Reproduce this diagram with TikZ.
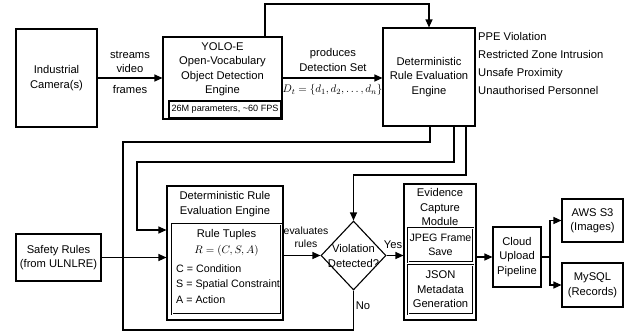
\documentclass[tikz,border=0pt]{standalone}
\usepackage{fontspec}
\setmainfont{Liberation Sans}
\usetikzlibrary{arrows.meta,shapes.geometric,calc}
\begin{document}
\begin{tikzpicture}[x=1pt,y=-1pt,
  every node/.style={font=\fontsize{11.2}{14.5}\selectfont},
  small/.style={font=\fontsize{10.7}{14.5}\selectfont},
  box/.style={draw,line width=1.1pt,inner sep=0pt,align=center},
  dbox/.style={draw,line width=0.5pt,double,double distance=0.6pt,inner sep=0pt,align=center},
  txt/.style={inner sep=0pt,align=center},
  conn/.style={line width=1.1pt},
  arr/.style={conn,-{Triangle[length=8pt,width=7pt]}}]
\useasboundingbox (0,0) rectangle (628,335);

% camera and detector
\node[box,minimum width=81,minimum height=98] (cam) at (56.5,78) {Industrial\\Camera(s)};
\node[box,minimum width=119,minimum height=82] (yolo) at (222.5,78) {};
\node[txt] (yolotxt) at (222.5,69) {YOLO-E\\Open-Vocabulary\\Object Detection\\Engine};
\node[box,minimum width=112,minimum height=17,font=\fontsize{9.1}{11}\selectfont] (yparam) at (225,109.5) {26M parameters, \textasciitilde 60 FPS};

% rule engine (top)
\node[box,minimum width=92,minimum height=98] (eng) at (429,77) {Deterministic\\Rule Evaluation\\Engine};
\node[txt,anchor=west,align=left,font=\fontsize{11.2}{17.7}\selectfont] (vlist) at (478,63.5)
  {PPE Violation\\Restricted Zone Intrusion\\Unsafe Proximity\\Unauthorised Personnel};

% rule engine (detail)
\node[box,minimum width=116,minimum height=134] (dre) at (225,253) {};
\node[txt] (dretxt) at (225,204) {Deterministic Rule\\Evaluation Engine};
\node[dbox,minimum width=109,minimum height=90] (tup) at (226.5,269) {};
\node[txt] (tuptitle) at (226.5,235) {Rule Tuples};
\node[txt] (tupR) at (226.5,251) {$R=(C,S,A)$};
\node[txt,small,anchor=west] (tupC) at (176,269) {C = Condition};
\node[txt,small,anchor=west] (tupS) at (176,284.5) {S = Spatial Constraint};
\node[txt,small,anchor=west] (tupA) at (176,300) {A = Action};

\node[box,minimum width=85,minimum height=47] (safe) at (58.5,257.5) {Safety Rules\\(from ULNLRE)};

% decision
\node[draw,line width=1.1pt,diamond,shape aspect=0.94,minimum width=65,minimum height=69,inner sep=0pt] (dia) at (353.5,255.5) {};
\node[txt] (diatxt) at (353.5,256) {Violation\\Detected?};

% evidence capture
\node[box,minimum width=72,minimum height=136] (evid) at (440,252) {};
\node[txt] (evidtxt) at (440,207) {Evidence\\Capture\\Module};
\node[dbox,small,minimum width=65,minimum height=34] (jpeg) at (440.5,245) {JPEG Frame\\Save};
\node[dbox,minimum width=65,minimum height=49] (json) at (440.5,289.5) {JSON\\Metadata\\Generation};

% upload and storage
\node[box,minimum width=48,minimum height=60] (cloud) at (517,257) {Cloud\\Upload\\Pipeline};
\node[box,minimum width=61,minimum height=43] (aws) at (592.5,220.5) {AWS S3\\(Images)};
\node[box,minimum width=61,minimum height=44] (mysql) at (592.5,285) {MySQL\\(Records)};

% routing points
\coordinate (topA) at (429,4);
\coordinate (noA) at (123,142);
\coordinate (noB) at (123,330);
\coordinate (lpA) at (137,162);
\coordinate (lpB) at (137,230);
\coordinate (vA) at (353.5,175);
\coordinate (split) at (550,257);

% connectors
\draw[arr] (cam.east) -- (yolo.west |- cam.east);
\node[txt] (lblstream) at (130,62) {streams\\video};
\node[txt] (lblframes) at (130,89) {frames};

\draw[arr] (yolo.east) -- (eng.west |- yolo.east);
\node[txt] (lblprod) at (333,60) {produces\\Detection Set};
\node[txt,font=\fontsize{10.8}{13}\selectfont] (lblset) at (332.5,90) {$D_t=\{d_1,d_2,\dots,d_n\}$};

\draw[arr] ([xshift=42.5pt]yolo.north) |- (topA) -- (eng.north);

\draw[conn] ([xshift=1pt]eng.south) |- (noA) -- (noB) -| (dia.south);
\node[txt] (lblno) at (363,306) {No};
\draw[arr] ([xshift=25pt]eng.south) |- (lpA) -- (lpB) -- (dre.west |- lpB);
\draw[arr] ([xshift=37pt]eng.south) |- (vA) -- (dia.north);

\draw[arr] (safe.east) -- (dre.west |- safe.east);
\draw[arr] (dre.east |- dia.west) -- (dia.west);
\node[txt,font=\fontsize{10.4}{13}\selectfont] (lbleval) at (306,237.5) {evaluates\\rules};

\draw[arr] (dia.east) -- (evid.west |- dia.east);
\node[txt] (lblyes) at (393,245) {Yes};

\draw[arr] (evid.east |- cloud.west) -- (cloud.west);
\draw[conn] (cloud.east) -- (split);
\draw[arr] (split) |- (aws.west);
\draw[arr] (split) |- (mysql.west);
\end{tikzpicture}
\end{document}
